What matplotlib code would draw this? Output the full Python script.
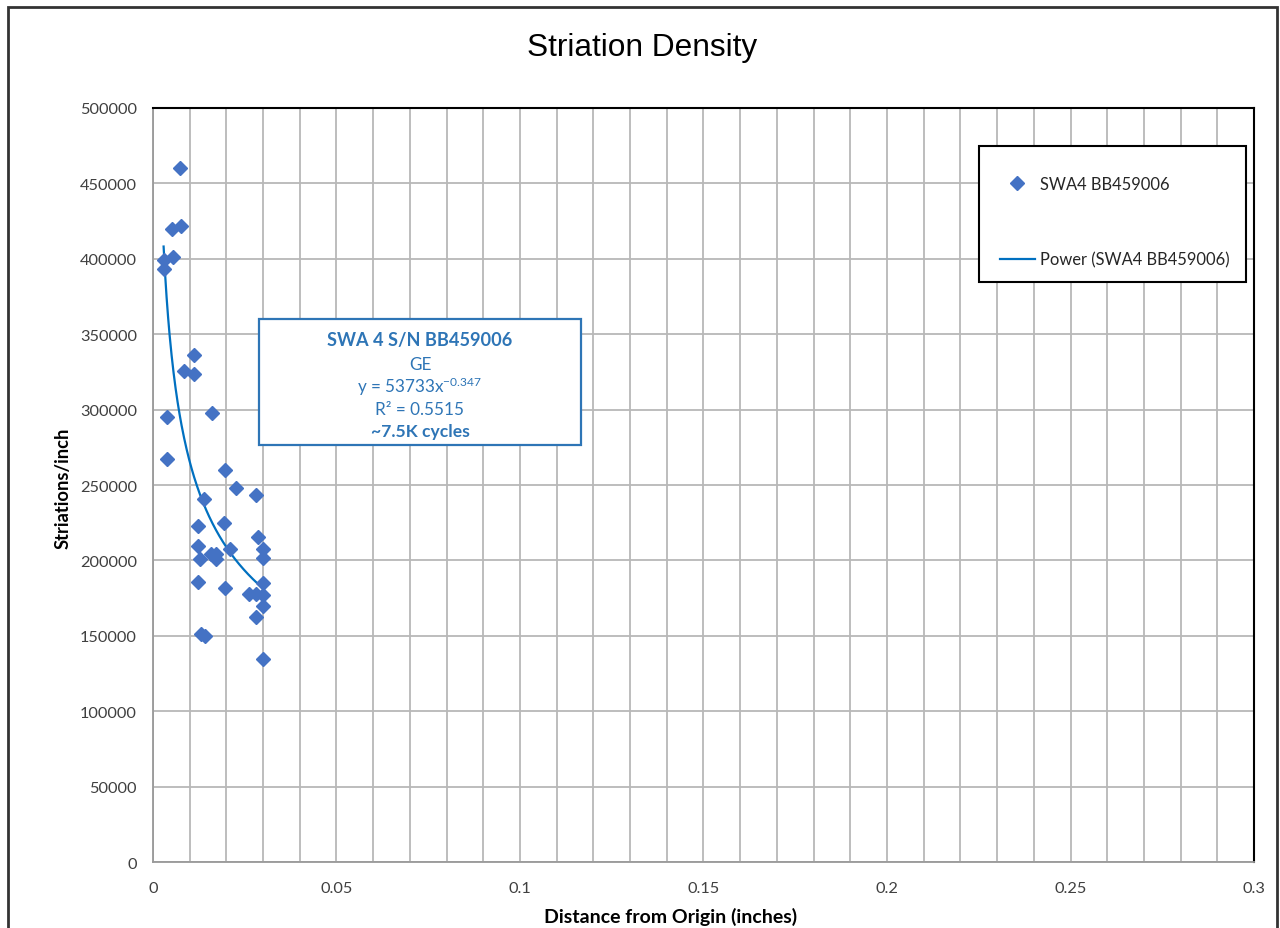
import matplotlib
matplotlib.use("Agg")
import matplotlib.pyplot as plt
import numpy as np
from matplotlib.patches import Rectangle
from matplotlib.lines import Line2D
from matplotlib.ticker import MultipleLocator

plt.rcParams["font.family"] = ["Lato", "DejaVu Sans"]
plt.rcParams["mathtext.fontset"] = "custom"
plt.rcParams["mathtext.rm"] = "Lato"
plt.rcParams["mathtext.it"] = "Lato"

# data
distance_in = [0.0074, 0.0052, 0.0077, 0.0054, 0.0029, 0.0029, 0.0113, 0.0084,
               0.0113, 0.0039, 0.0160, 0.0039, 0.0195, 0.0225, 0.0281, 0.0140,
               0.0122, 0.0193, 0.0285, 0.0122, 0.0129, 0.0157, 0.0172, 0.0172,
               0.0211, 0.0300, 0.0300, 0.0122, 0.0195, 0.0300, 0.0262, 0.0281,
               0.0300, 0.0300, 0.0281, 0.0131, 0.0142, 0.0300]
striations = [460000, 420000, 421500, 401500, 399000, 393500, 336500, 325500,
              323500, 295000, 297500, 267500, 260000, 248000, 243500, 240500,
              223000, 224500, 215500, 209500, 201000, 204000, 204000, 201000,
              207500, 207500, 201500, 186000, 182000, 185000, 178000, 178000,
              177000, 170000, 162500, 151500, 150000, 134500]

# power trendline as printed on the chart
fit_a = 53733
fit_b = -0.347
series_name = "SWA4 BB459006"
note_lines = ["SWA 4 S/N BB459006", "GE", "y = 53733x$^{-0.347}$",
              "R² = 0.5515", "~7.5K cycles"]

marker_c = "#4472C4"
trend_c = "#0070C0"
note_c = "#2E75B6"
grid_c = "#B8B8B8"

fig = plt.figure(figsize=(12.8, 9.29), dpi=100)
ax = fig.add_axes([0.1195, 0.071, 0.8602, 0.8117])

ax.set_xlim(0, 0.3)
ax.set_ylim(0, 500000)
ax.xaxis.set_minor_locator(MultipleLocator(0.01))
ax.yaxis.set_major_locator(MultipleLocator(50000))
ax.set_xticks([0, 0.05, 0.1, 0.15, 0.2, 0.25, 0.3])
ax.set_xticklabels(["0", "0.05", "0.1", "0.15", "0.2", "0.25", "0.3"])
ax.grid(True, which="both", color=grid_c, lw=1.3)
ax.set_axisbelow(True)
ax.tick_params(which="both", length=0, labelsize=11.8, colors="#404040")
ax.tick_params(axis="y", pad=11.5)
ax.tick_params(axis="x", pad=14)

for s in ["top", "right"]:
    ax.spines[s].set_color("black")
    ax.spines[s].set_linewidth(1.5)
for s in ["left", "bottom"]:
    ax.spines[s].set_color("#999999")
    ax.spines[s].set_linewidth(1.3)

xt = np.linspace(min(distance_in), max(distance_in), 200)
ax.plot(xt, fit_a * xt ** fit_b, color=trend_c, lw=1.6, zorder=3)
ax.plot(distance_in, striations, ls="none", marker="D", ms=7.2,
        color=marker_c, zorder=4)

ax.set_xlabel("Distance from Origin (inches)", fontsize=14, fontweight="bold")
ax.set_ylabel("Striations/inch", fontsize=13.2, fontweight="bold")
ax.xaxis.set_label_coords(0.47, -0.059)
ax.yaxis.set_label_coords(-0.0735, 0.497)

# legend: frame drawn separately, entries placed inside it
ax.add_patch(Rectangle((0.750, 0.769), 0.2427, 0.181, transform=ax.transAxes,
                       facecolor="white", edgecolor="black", lw=1.5, zorder=5))
h1 = Line2D([], [], ls="none", marker="D", ms=7.2, color=marker_c)
h2 = Line2D([], [], color=trend_c, lw=1.6)
leg = ax.legend([h1, h2], [series_name, "Power (" + series_name + ")"],
                loc="upper left", bbox_to_anchor=(0.7693, 0.910),
                borderaxespad=0, borderpad=0, fontsize=11.9, frameon=False,
                labelspacing=3.6, handlelength=2.1, handletextpad=0.3)
leg.set_zorder(6)
for t in leg.get_texts():
    t.set_color("#262626")

# annotation box
ax.add_patch(Rectangle((0.0963, 0.553), 0.2924, 0.1672, transform=ax.transAxes,
                       facecolor="white", edgecolor=note_c, lw=1.6, zorder=5))
ys = [0.6936, 0.6605, 0.6313, 0.6008, 0.5716]
weights = ["bold", "normal", "normal", "normal", "bold"]
sizes = [13.1, 12.3, 12.3, 12.3, 12.6]
for txt, yy, w, fs in zip(note_lines, ys, weights, sizes):
    ax.text(0.2425, yy, txt, transform=ax.transAxes, ha="center", va="center",
            color=note_c, fontsize=fs, fontweight=w, zorder=6)

fig.text(0.502, 1 - 48 / 929, "Striation Density", ha="center", va="center",
         fontsize=22.8, family="Liberation Sans")

# outer chart frame
fig.patches.append(Rectangle((8 / 1280, -0.02), 1269 / 1280, 0.02 + 1 - 8 / 929,
                             transform=fig.transFigure, fill=False,
                             edgecolor="#333333", lw=2))

fig.savefig("out.png", dpi=100)
